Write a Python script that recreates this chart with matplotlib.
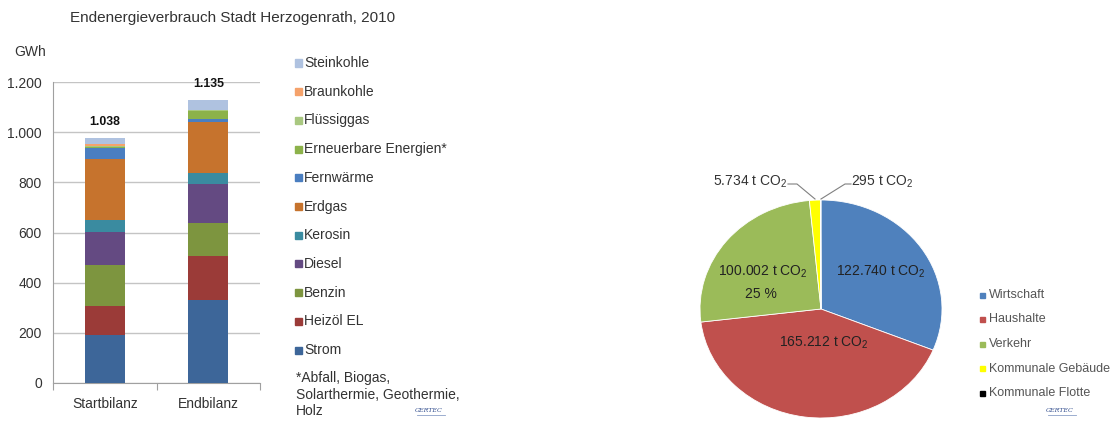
import matplotlib
matplotlib.use("Agg")
import matplotlib.pyplot as plt
from matplotlib.patches import Rectangle
from matplotlib.lines import Line2D

plt.rcParams['font.family'] = ['Liberation Sans', 'DejaVu Sans']
plt.rcParams['mathtext.fontset'] = 'custom'
plt.rcParams['mathtext.rm'] = 'Liberation Sans'
plt.rcParams['mathtext.it'] = 'Liberation Sans:italic'
plt.rcParams['mathtext.bf'] = 'Liberation Sans:bold'

W, H = 1114, 421

# ---------------- data ----------------
categories = ["Startbilanz", "Endbilanz"]
series_names = ["Strom", "Heizöl EL", "Benzin", "Diesel", "Kerosin", "Erdgas",
                "Fernwärme", "Erneuerbare Energien*", "Flüssiggas", "Braunkohle", "Steinkohle"]
series_colors = ["#3D6699", "#9B3B38", "#7D953F", "#644A82", "#3A8BA0", "#C6732D",
                 "#4A7EC0", "#8CB24A", "#A9C880", "#F5A26B", "#AFC2E0"]
strom = [190, 330]
heizoel = [118, 178]
benzin = [164, 130]
diesel = [131, 154]
kerosin = [47, 47]
erdgas = [245, 202]
fernwaerme = [43, 12]
erneuerbare = [3, 30]
fluessiggas = [4, 7]
braunkohle = [6, 0]
steinkohle = [26, 40]
series_values = [strom, heizoel, benzin, diesel, kerosin, erdgas,
                 fernwaerme, erneuerbare, fluessiggas, braunkohle, steinkohle]
total_labels = ["1.038", "1.135"]
yticks = [0, 200, 400, 600, 800, 1000, 1200]
ytick_labels = ["0", "200", "400", "600", "800", "1.000", "1.200"]

pie_names = ["Wirtschaft", "Haushalte", "Verkehr", "Kommunale Gebäude", "Kommunale Flotte"]
pie_values = [122740, 165212, 100002, 5734, 295]
pie_colors = ["#4F81BD", "#C0504D", "#9BBB59", "#FFFF00", "#000000"]
pie_value_labels = ["122.740 t CO$_2$", "165.212 t CO$_2$", "100.002 t CO$_2$",
                    "5.734 t CO$_2$", "295 t CO$_2$"]

TXT = "#333333"

def fx(x):
    return x / W

def fy(y):
    return 1 - y / H

fig = plt.figure(figsize=(W / 100, H / 100), dpi=100)

# ---------------- bar chart ----------------
ax = fig.add_axes([fx(53), fy(383), (260 - 53) / W, (383 - 82) / H])
xpos = [0, 1]
bottom = [0, 0]
for vals, col in zip(series_values, series_colors):
    ax.bar(xpos, vals, width=0.39, bottom=bottom, color=col, zorder=3)
    bottom = [b + v for b, v in zip(bottom, vals)]
ax.set_xlim(-0.5, 1.5)
ax.set_ylim(0, 1200)
ax.set_yticks(yticks)
ax.set_yticklabels(ytick_labels)
ax.yaxis.grid(True, color="#C4C4C4", linewidth=1.0, zorder=0)
ax.set_axisbelow(True)
ax.tick_params(axis='y', length=0, pad=8, labelsize=10, labelcolor=TXT)
ax.set_xticks([-0.5, 0.5, 1.5], minor=False)
ax.set_xticklabels([])
ax.set_xticks(xpos, minor=True)
ax.set_xticklabels(categories, minor=True)
ax.tick_params(axis='x', which='major', length=5, color="#A0A0A0", direction='out')
ax.tick_params(axis='x', which='minor', length=0, pad=10, labelsize=10, labelcolor=TXT)
for s in ["top", "right"]:
    ax.spines[s].set_visible(False)
ax.spines["left"].set_color("#A0A0A0")
ax.spines["bottom"].set_color("#A0A0A0")
for x, tot, lab in zip(xpos, bottom, total_labels):
    ax.text(x, tot + 40, lab, ha='center', va='bottom', fontsize=8.8,
            fontweight='bold', color="#111111")

fig.text(fx(70), fy(18), "Endenergieverbrauch Stadt Herzogenrath, 2010",
         fontsize=11, color=TXT, va='center', ha='left')
fig.text(fx(14), fy(52), "GWh", fontsize=10, color=TXT, va='center', ha='left')

# legend (reverse order, Steinkohle at top)
for i, (name, col) in enumerate(zip(series_names[::-1], series_colors[::-1])):
    yc = 63 + 28.7 * i
    fig.add_artist(Rectangle((fx(295), fy(yc + 3.5)), 7 / W, 7 / H,
                             transform=fig.transFigure, color=col))
    fig.text(fx(304), fy(yc), name, fontsize=10, color=TXT, va='center', ha='left')
for yc, line in zip([378, 395, 411],
                    ["*Abfall, Biogas,", "Solarthermie, Geothermie,", "Holz"]):
    fig.text(fx(296), fy(yc), line, fontsize=10, color=TXT, va='center', ha='left')

def logo(xc, yc):
    fig.text(fx(xc), fy(yc), "GERTEC", fontsize=4.5, style='italic',
             color="#2F4B8C", va='center', ha='center', family='DejaVu Serif')
    fig.add_artist(Line2D([fx(xc - 12), fx(xc + 16)], [fy(yc + 5), fy(yc + 5)],
                          transform=fig.transFigure, color="#8CA0C8", lw=0.6))

logo(429, 410)

# ---------------- pie chart ----------------
cx, cy, rx, ry = 821, 309, 121, 109
pax = fig.add_axes([fx(cx - rx), fy(cy + ry), 2 * rx / W, 2 * ry / H])
pax.pie(pie_values, colors=pie_colors, startangle=90, counterclock=False,
        wedgeprops=dict(linewidth=0.6, edgecolor="white"))
pax.set_aspect('auto')
pax.set_xlim(-1, 1)
pax.set_ylim(-1, 1)

def dpos(px_, py_):
    return ((px_ - cx) / rx, (cy - py_) / ry)

pie_text_pos = [(881, 272), (824, 343), (763, 272)]
for lab, (px_, py_) in zip(pie_value_labels[:3], pie_text_pos):
    x, y = dpos(px_, py_)
    pax.text(x, y, lab, ha='center', va='center', fontsize=10, color="#222222")
share_verkehr = pie_values[2] / sum(pie_values) * 100
x, y = dpos(761, 294)
pax.text(x, y, f"{share_verkehr:.0f} %", ha='center', va='center', fontsize=10,
         color="#222222")

# outside labels with leader lines
x, y = dpos(750, 182)
pax.text(x, y, pie_value_labels[3], ha='center', va='center', fontsize=10,
         color=TXT, clip_on=False)
pts = [dpos(788, 184), dpos(797, 184), dpos(815, 199)]
pax.plot([p[0] for p in pts], [p[1] for p in pts], color="#808080", lw=0.8,
         clip_on=False)
x, y = dpos(882, 182)
pax.text(x, y, pie_value_labels[4], ha='center', va='center', fontsize=10,
         color=TXT, clip_on=False)
pts = [dpos(851, 184), dpos(845, 184), dpos(821, 199)]
pax.plot([p[0] for p in pts], [p[1] for p in pts], color="#808080", lw=0.8,
         clip_on=False)

for i, (name, col) in enumerate(zip(pie_names, pie_colors)):
    yc = 295 + 24.5 * i
    fig.add_artist(Rectangle((fx(980), fy(yc + 2.5)), 5 / W, 5 / H,
                             transform=fig.transFigure, color=col))
    fig.text(fx(989), fy(yc), name, fontsize=9, color="#555555", va='center',
             ha='left')

logo(1060, 410)

fig.savefig("out.png", dpi=100)
